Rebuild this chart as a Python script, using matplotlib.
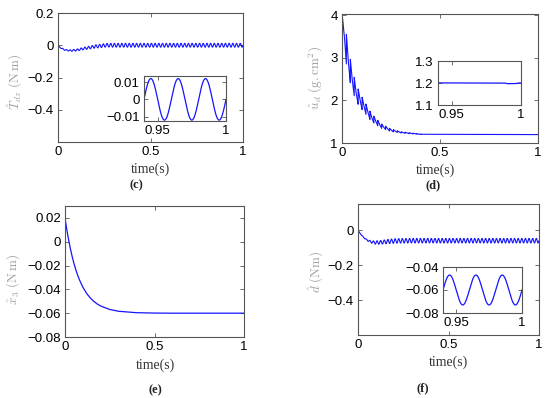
import matplotlib
matplotlib.use('Agg')
import matplotlib.pyplot as plt
import numpy as np

plt.rcParams['font.family'] = ['Liberation Sans', 'DejaVu Sans']
plt.rcParams['mathtext.fontset'] = 'cm'

# ---- values ----
ripple_period = 0.02          # s, oscillation seen in c, d, f

# (c) T_dz estimate: slow trend + ripple amplitude
c_t = [0, 0.02, 0.04, 0.07, 0.1, 0.14, 0.2, 0.26, 1.0]
c_v = [-0.005, -0.02, -0.03, -0.033, -0.03, -0.02, -0.008, 0.0, 0.0]
c_amp_t = [0, 0.1, 0.2, 0.3, 1.0]
c_amp = [0.002, 0.006, 0.01, 0.012, 0.012]

# (d) u_d estimate: mean per cycle + sawtooth amplitude, tiny dip near the end
d_t = [0, 0.012, 0.032, 0.052, 0.072, 0.1, 0.15, 0.2, 0.25, 0.3, 0.4, 0.988, 0.99, 0.996, 0.998, 1.0]
d_v = [3.55, 3.51, 2.92, 2.49, 2.17, 1.95, 1.6, 1.4, 1.3, 1.25, 1.205, 1.2, 1.197, 1.197, 1.2, 1.2]
d_amp_t = [0, 0.012, 0.032, 0.052, 0.072, 0.1, 0.15, 0.2, 0.25, 0.3, 0.4, 0.42, 1.0]
d_amp = [0.39, 0.39, 0.32, 0.24, 0.2, 0.15, 0.09, 0.05, 0.03, 0.015, 0.005, 0.0, 0.0]

# (e) x3 estimate
e_t = [0, 0.01, 0.02, 0.03, 0.04, 0.05, 0.06, 0.07, 0.08, 0.09, 0.1,
       0.12, 0.14, 0.16, 0.18, 0.2, 0.25, 0.3, 0.4, 0.5, 0.6, 1.0]
e_v = [0.02, 0.0103, 0.0017, -0.0058, -0.0124, -0.0182, -0.0233, -0.0278, -0.0317, -0.0351, -0.0382,
       -0.0432, -0.047, -0.05, -0.0523, -0.054, -0.0569, -0.0584, -0.0596, -0.0599, -0.06, -0.06]

# (f) d estimate
f_t = [0, 0.02, 0.04, 0.06, 0.08, 0.1, 0.13, 0.17, 0.22, 0.3, 1.0]
f_v = [0.0, -0.03, -0.05, -0.062, -0.069, -0.071, -0.069, -0.064, -0.061, -0.06, -0.06]
f_amp_t = [0, 0.05, 0.1, 0.2, 1.0]
f_amp = [0.0, 0.004, 0.01, 0.013, 0.013]

t = np.linspace(0, 1, 6001)
wave = np.sin(2 * np.pi * t / ripple_period)
saw = 1 - 2 * (((t - 0.0025) / ripple_period) % 1.0)

c_y = np.interp(t, c_t, c_v) + np.interp(t, c_amp_t, c_amp) * wave
d_y = np.interp(t, d_t, d_v) + np.interp(t, d_amp_t, d_amp) * saw
f_y = np.interp(t, f_t, f_v) + np.interp(t, f_amp_t, f_amp) * wave

W, H = 550, 398
fig = plt.figure(figsize=(5.5, 3.98), dpi=100)


def box(l, r, top, bot):
    return [l / W, 1 - bot / H, (r - l) / W, (bot - top) / H]


def style(ax):
    for s in ax.spines.values():
        s.set_color('#555555')
        s.set_linewidth(0.8)
    ax.tick_params(direction='in', top=True, right=True, length=3, width=0.6,
                   labelsize=9.5, pad=3, color='#555555')


blue = '#1414ff'

# (c)
ax = fig.add_axes(box(58, 243, 13, 142))
ax.plot(t, c_y, color=blue, lw=0.8)
ax.set_xlim(0, 1); ax.set_ylim(-0.6, 0.2)
ax.set_xticks([0, 0.5, 1]); ax.set_xticklabels(['0', '0.5', '1'])
ax.set_yticks([-0.4, -0.2, 0, 0.2]); ax.set_yticklabels(['\u22120.4', '\u22120.2', '0', '0.2'])
style(ax)
ins = fig.add_axes(box(144, 226, 76, 121))
ins.plot(t, c_y, color=blue, lw=0.9)
ins.set_xlim(0.94, 1); ins.set_ylim(-0.0125, 0.0135)
ins.set_xticks([0.95, 1]); ins.set_xticklabels(['0.95', '1'])
ins.set_yticks([-0.01, 0, 0.01]); ins.set_yticklabels(['\u22120.01', '0', '0.01'])
style(ins)

# (d)
ax = fig.add_axes(box(342, 538, 14, 143))
ax.plot(t, d_y, color=blue, lw=0.8)
ax.set_xlim(0, 1); ax.set_ylim(1, 4.03)
ax.set_xticks([0, 0.5, 1]); ax.set_xticklabels(['0', '0.5', '1'])
ax.set_yticks([1, 2, 3, 4])
style(ax)
ins = fig.add_axes(box(438, 521, 61, 105))
ins.plot(t, d_y, color=blue, lw=0.9)
ins.set_xlim(0.94, 1); ins.set_ylim(1.1, 1.3)
ins.set_xticks([0.95, 1]); ins.set_xticklabels(['0.95', '1'])
ins.set_yticks([1.1, 1.2, 1.3])
style(ins)

# (e)
ax = fig.add_axes(box(65, 244, 206, 337))
ax.plot(e_t, e_v, color=blue, lw=0.9)
ax.set_xlim(0, 1); ax.set_ylim(-0.08, 0.03)
ax.set_xticks([0, 0.5, 1]); ax.set_xticklabels(['0', '0.5', '1'])
ax.set_yticks([-0.08, -0.06, -0.04, -0.02, 0, 0.02])
ax.set_yticklabels(['\u22120.08', '\u22120.06', '\u22120.04', '\u22120.02', '0', '0.02'])
style(ax)

# (f)
ax = fig.add_axes(box(358, 539, 204, 335))
ax.plot(t, f_y, color=blue, lw=0.8)
ax.set_xlim(0, 1); ax.set_ylim(-0.6, 0.15)
ax.set_xticks([0, 0.5, 1]); ax.set_xticklabels(['0', '0.5', '1'])
ax.set_yticks([-0.4, -0.2, 0]); ax.set_yticklabels(['\u22120.4', '\u22120.2', '0'])
style(ax)
ins = fig.add_axes(box(443, 522, 267, 313))
ins.plot(t, f_y, color=blue, lw=0.9)
ins.set_xlim(0.94, 1); ins.set_ylim(-0.08, -0.04)
ins.set_xticks([0.95, 1]); ins.set_xticklabels(['0.95', '1'])
ins.set_yticks([-0.08, -0.06, -0.04]); ins.set_yticklabels(['\u22120.08', '\u22120.06', '\u22120.04'])
style(ins)

# labels
ylab_col = '#a0a0a0'
ylabels = [(15, 82, r'$\hat{T}_{dz}\ (\mathrm{N\,m})$'),
           (316, 78, r'$\hat{u}_d\ (\mathrm{g.cm}^2)$'),
           (13, 279, r'$\hat{x}_3\ (\mathrm{N\,m})$'),
           (316, 272, r'$\hat{d}\ (\mathrm{Nm})$')]
for x, y, s in ylabels:
    fig.text(x / W, 1 - y / H, s, rotation=90, ha='center', va='center', fontsize=9.5, color=ylab_col)

for x, y in [(150, 169), (435, 170), (155, 365), (448, 362)]:
    fig.text(x / W, 1 - y / H, 'time(s)', ha='center', va='center', fontsize=10,
             family='Liberation Serif', color='#333333')

for x, y, s in [(136, 185, '(c)'), (433, 185, '(d)'), (155, 390, '(e)'), (423, 388, '(f)')]:
    fig.text(x / W, 1 - y / H, s, ha='center', va='center', fontsize=9, family='Liberation Serif',
             weight='bold', color='#222222')

fig.savefig('out.png', dpi=100)
